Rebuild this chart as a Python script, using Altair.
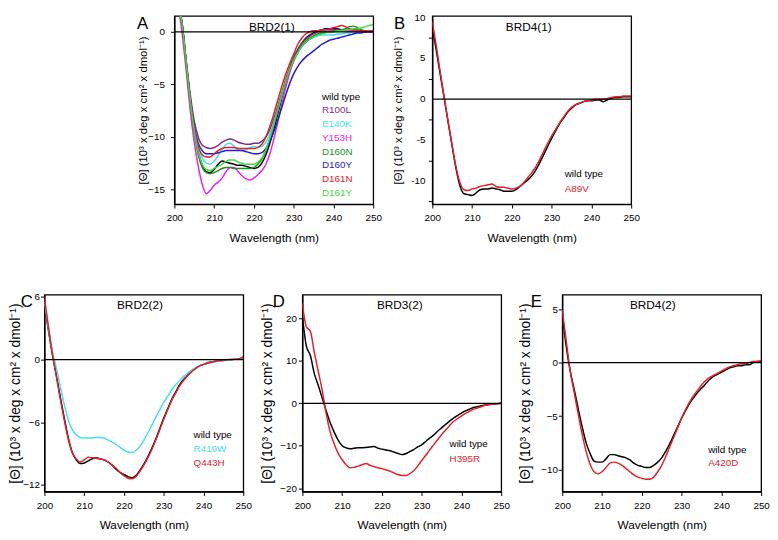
import altair as alt
import pandas as pd

FONT = "Liberation Sans, Arial, sans-serif"
WL = list(range(200, 251))
X_TICKS = list(range(200, 251, 5))
Y_TITLE = "[Θ] (10³ x deg x cm² x dmol⁻¹)"

# ---------------- Panel A : BRD2(1) ----------------
A_SERIES = ["wild type", "R100L", "E140K", "Y153H", "D160N", "D160Y", "D161N", "D161Y"]
A_COLORS = ["#000000", "#7B2D8E", "#3CE3F0", "#F21BF2", "#1F8F1F", "#1C1CD6", "#E4212B", "#3DDC3D"]
A_WT = [5.5, 3.0, 0.6, -3.0, -6.5, -9.3, -11.4, -12.7, -13.3, -13.4,
        -13.1, -12.6, -12.3, -12.4, -12.5, -12.6, -12.7, -12.7, -12.8, -12.9,
        -13.0, -12.9, -12.5, -11.7, -10.6, -9.3, -7.8, -6.3, -4.9, -3.6,
        -2.5, -1.7, -1.1, -0.6, -0.3, -0.1, 0.1, 0.2, 0.3, 0.3,
        0.3, 0.3, 0.2, 0.2, 0.1, 0.1, 0.1, 0.1, 0.1, 0.1, 0.1]
A_R100L = [5.5, 3.0, 0.6, -2.8, -6.0, -8.5, -10.0, -10.8, -11.0, -11.1,
           -11.0, -10.8, -10.5, -10.3, -10.2, -10.3, -10.5, -10.6, -10.7, -10.7,
           -10.6, -10.6, -10.4, -10.0, -9.3, -8.3, -7.1, -5.8, -4.5, -3.4,
           -2.4, -1.7, -1.1, -0.7, -0.4, -0.2, 0.0, 0.1, 0.2, 0.2,
           0.2, 0.2, 0.2, 0.2, 0.2, 0.2, 0.2, 0.1, 0.1, 0.1, 0.1]
A_E140K = [5.5, 3.0, 0.5, -3.0, -6.4, -9.2, -11.0, -12.0, -12.5, -12.6,
           -12.3, -11.8, -11.2, -10.7, -10.6, -10.9, -11.2, -11.3, -11.2, -11.0,
           -10.9, -11.0, -10.9, -10.5, -9.7, -8.6, -7.4, -6.1, -4.8, -3.7,
           -2.8, -2.0, -1.4, -1.0, -0.7, -0.5, -0.4, -0.3, -0.3, -0.3,
           -0.3, -0.2, -0.2, -0.1, -0.1, 0.0, 0.0, 0.0, 0.1, 0.1, 0.1]
A_Y153H = [5.0, 2.5, -0.3, -3.8, -7.5, -10.5, -12.8, -14.5, -15.4, -15.1,
           -14.6, -14.3, -13.9, -13.3, -12.9, -12.9, -13.3, -13.7, -14.0, -14.1,
           -13.9, -13.6, -13.2, -12.6, -11.6, -10.2, -8.6, -6.9, -5.3, -3.9,
           -2.8, -2.0, -1.4, -1.0, -0.7, -0.4, -0.2, -0.1, 0.0, 0.1,
           0.1, 0.1, 0.1, 0.1, 0.1, 0.1, 0.1, 0.1, 0.1, 0.1, 0.1]
A_D160N = [5.5, 3.0, 0.5, -3.2, -6.8, -9.6, -11.7, -12.9, -13.4, -13.5,
           -13.4, -13.2, -13.0, -12.9, -12.9, -13.0, -13.0, -13.0, -13.0, -13.0,
           -12.9, -12.6, -12.1, -11.3, -10.2, -8.9, -7.5, -6.1, -4.8, -3.6,
           -2.6, -1.9, -1.3, -0.9, -0.6, -0.4, -0.2, -0.1, 0.0, 0.0,
           0.1, 0.1, 0.2, 0.3, 0.5, 0.55, 0.4, 0.2, 0.1, 0.1, 0.1]
A_D160Y = [5.5, 3.0, 0.6, -3.0, -6.3, -9.0, -10.6, -11.3, -11.6, -11.6,
           -11.6, -11.5, -11.4, -11.3, -11.3, -11.3, -11.3, -11.3, -11.4, -11.5,
           -11.6, -11.6, -11.5, -11.1, -10.4, -9.5, -8.4, -7.2, -6.0, -4.9,
           -4.0, -3.3, -2.8, -2.4, -2.1, -1.8, -1.5, -1.2, -1.0, -0.8,
           -0.7, -0.6, -0.5, -0.4, -0.3, -0.2, -0.1, -0.1, 0.0, 0.0, 0.0]
A_D161N = [5.5, 3.0, 0.6, -3.0, -6.4, -9.2, -10.9, -11.7, -11.9, -11.9,
           -11.6, -11.3, -11.1, -11.0, -11.0, -11.0, -11.1, -11.1, -11.1, -11.1,
           -11.1, -11.0, -10.7, -10.0, -9.0, -7.8, -6.5, -5.2, -4.0, -3.0,
           -2.1, -1.2, -0.6, -0.2, 0.0, 0.1, 0.1, 0.2, 0.2, 0.3,
           0.4, 0.5, 0.6, 0.5, 0.3, 0.2, 0.1, 0.1, 0.1, 0.1, 0.0]
A_D161Y = [5.5, 3.0, 0.5, -3.1, -6.6, -9.4, -11.4, -12.6, -13.1, -13.2,
           -13.0, -12.8, -12.6, -12.3, -12.2, -12.2, -12.4, -12.5, -12.6, -12.6,
           -12.6, -12.4, -12.0, -11.2, -10.1, -8.8, -7.4, -6.0, -4.7, -3.6,
           -2.7, -2.0, -1.4, -1.0, -0.7, -0.5, -0.3, -0.2, -0.1, 0.0,
           0.0, 0.1, 0.1, 0.2, 0.2, 0.3, 0.3, 0.4, 0.5, 0.6, 0.7]

# ---------------- Panel B : BRD4(1) ----------------
B_SERIES = ["wild type", "A89V"]
B_COLORS = ["#000000", "#E4212B"]
B_WT = [8.8, 6.0, 3.0, 0.1, -2.9, -5.8, -8.6, -10.7, -11.6, -11.7,
        -11.8, -11.5, -11.1, -11.0, -11.0, -10.9, -11.0, -11.1, -11.3, -11.3,
        -11.3, -11.1, -10.7, -10.3, -9.9, -9.4, -8.7, -7.8, -6.8, -5.8,
        -4.8, -3.9, -3.0, -2.3, -1.6, -1.1, -0.7, -0.5, -0.3, -0.2,
        -0.2, -0.1, -0.1, -0.3, -0.1, 0.1, 0.2, 0.2, 0.3, 0.3, 0.3]
B_A89V = [9.5, 6.5, 3.3, 0.2, -2.8, -5.7, -8.4, -10.3, -11.1, -11.2,
          -11.0, -10.9, -10.7, -10.6, -10.5, -10.4, -10.7, -10.8, -10.8, -10.9,
          -11.0, -10.9, -10.7, -10.2, -9.6, -9.0, -8.3, -7.4, -6.4, -5.4,
          -4.5, -3.7, -2.9, -2.2, -1.5, -1.0, -0.7, -0.5, -0.3, -0.2,
          -0.1, 0.0, 0.0, 0.0, 0.1, 0.2, 0.3, 0.3, 0.4, 0.4, 0.4]

# ---------------- Panel C : BRD2(2) ----------------
C_SERIES = ["wild type", "R419W", "Q443H"]
C_COLORS = ["#000000", "#45E0EE", "#E4212B"]
C_WT = [5.2, 2.8, 0.5, -1.5, -3.6, -5.6, -7.5, -8.9, -9.6, -9.95,
        -9.9, -9.7, -9.5, -9.4, -9.5, -9.6, -9.8, -10.1, -10.5, -10.8,
        -11.0, -11.2, -11.3, -11.1, -10.6, -10.0, -9.3, -8.5, -7.6, -6.6,
        -5.6, -4.7, -3.8, -3.1, -2.4, -1.9, -1.5, -1.1, -0.8, -0.6,
        -0.45, -0.3, -0.2, -0.15, -0.1, -0.05, 0.0, 0.0, 0.05, 0.1, 0.1]
C_R419W = [5.5, 3.0, 0.8, -0.8, -2.6, -4.3, -5.8, -6.7, -7.2, -7.45,
           -7.5, -7.5, -7.5, -7.45, -7.45, -7.5, -7.7, -7.9, -8.1, -8.4,
           -8.65, -8.85, -8.9, -8.7, -8.3, -7.7, -7.0, -6.3, -5.5, -4.8,
           -4.1, -3.5, -2.9, -2.4, -2.0, -1.6, -1.3, -1.0, -0.8, -0.6,
           -0.45, -0.35, -0.25, -0.2, -0.15, -0.1, -0.05, 0.0, 0.05, 0.1, 0.2]
C_Q443H = [6.0, 3.2, 0.6, -1.6, -3.8, -5.8, -7.6, -8.9, -9.5, -9.8,
           -9.6, -9.35, -9.4, -9.45, -9.5, -9.6, -9.8, -10.1, -10.4, -10.8,
           -11.1, -11.35, -11.4, -11.2, -10.7, -10.1, -9.4, -8.6, -7.7, -6.7,
           -5.7, -4.8, -3.9, -3.2, -2.5, -2.0, -1.55, -1.15, -0.85, -0.6,
           -0.45, -0.35, -0.25, -0.15, -0.1, -0.05, 0.0, 0.05, 0.05, 0.1, 0.3]

# ---------------- Panel D : BRD3(2) ----------------
D_SERIES = ["wild type", "H395R"]
D_COLORS = ["#000000", "#E4212B"]
D_WT = [20.5, 13.5, 11.3, 7.0, 4.2, 1.2, -1.8, -4.6, -6.8, -8.7,
        -10.0, -10.5, -10.7, -10.6, -10.5, -10.5, -10.4, -10.3, -10.2, -10.6,
        -10.8, -11.0, -11.2, -11.5, -11.8, -12.1, -11.9, -11.4, -10.9, -10.3,
        -9.8, -9.0, -8.2, -7.5, -6.6, -5.8, -5.0, -4.2, -3.5, -2.9,
        -2.3, -1.8, -1.4, -1.0, -0.8, -0.6, -0.4, -0.3, -0.2, -0.1, 0.0]
D_H395R = [23.5, 18.0, 17.0, 12.0, 7.5, 3.0, -2.5, -6.8, -9.6, -11.8,
           -13.3, -14.5, -15.2, -15.1, -14.8, -14.5, -14.2, -14.6, -14.9, -15.2,
           -15.4, -15.7, -16.0, -16.4, -16.8, -17.0, -17.0, -16.6, -15.9, -14.8,
           -13.5, -12.3, -11.0, -9.8, -8.6, -7.4, -6.3, -5.3, -4.3, -3.6,
           -3.0, -2.4, -1.9, -1.4, -1.1, -0.8, -0.5, -0.3, -0.2, -0.1, 0.0]

# ---------------- Panel E : BRD4(2) ----------------
E_SERIES = ["wild type", "A420D"]
E_COLORS = ["#000000", "#E4212B"]
E_WT = [4.5, 1.5, -0.8, -2.5, -4.3, -6.0, -7.5, -8.5, -9.2, -9.3,
        -9.3, -9.0, -8.6, -8.6, -8.7, -8.8, -8.9, -9.1, -9.4, -9.6,
        -9.7, -9.8, -9.8, -9.6, -9.3, -8.9, -8.3, -7.6, -6.8, -6.0,
        -5.2, -4.5, -3.8, -3.3, -2.8, -2.4, -2.0, -1.6, -1.3, -1.1,
        -0.9, -0.7, -0.5, -0.4, -0.3, -0.3, -0.2, -0.2, 0.0, 0.1, 0.1]
E_A420D = [4.9, 2.0, -0.8, -2.8, -4.8, -6.7, -8.3, -9.5, -10.2, -10.4,
           -10.2, -9.8, -9.4, -9.3, -9.4, -9.6, -9.9, -10.2, -10.5, -10.7,
           -10.8, -10.9, -10.9, -10.7, -10.2, -9.6, -8.8, -7.9, -7.0, -6.1,
           -5.2, -4.4, -3.7, -3.1, -2.6, -2.1, -1.7, -1.4, -1.2, -1.0,
           -0.8, -0.6, -0.4, -0.3, -0.2, -0.1, -0.1, 0.0, 0.1, 0.1, 0.2]

A_YTICKS = [-15, -12.5, -10, -7.5, -5, -2.5, 0]
B_YTICKS = [-12.5, -10, -7.5, -5, -2.5, 0, 2.5, 5, 7.5, 10]
C_YTICKS = [-12, -10.5, -9, -7.5, -6, -4.5, -3, -1.5, 0, 1.5, 3, 4.5, 6]
D_YTICKS = [-20, -15, -10, -5, 0, 5, 10, 15, 20, 25]
E_YTICKS = [-10, -7.5, -5, -2.5, 0, 2.5, 5]


def panel(key, series, colors, values, ydomain, yticks, ylabel_step, width, height,
          title, title_x, letter, letter_x, legend_x, legend_y0, legend_step,
          ytitle_size, y_extent, y_labelpad, text_labels=False):
    rows = []
    for name, col, vals in zip(series, colors, values):
        for w, v in zip(WL, vals):
            rows.append({"wl": w, "val": v, "series": key + name, "col": col})
    df = pd.DataFrame(rows)

    xenc = alt.X("wl:Q", scale=alt.Scale(domain=[200, 250], nice=False, zero=False),
                 axis=alt.Axis(values=X_TICKS,
                               labelExpr="datum.value % 10 == 0 ? datum.label : ''",
                               title="Wavelength (nm)", labelPadding=5, titlePadding=10,
                               labelOverlap=False))
    yaxis_kw = dict(values=yticks, title=Y_TITLE, titleFontSize=ytitle_size,
                    minExtent=y_extent, maxExtent=y_extent,
                    labelPadding=y_labelpad, titlePadding=0, labelOverlap=False)
    if text_labels:
        yaxis_kw["labels"] = False
    else:
        yaxis_kw["labelExpr"] = (f"abs(datum.value % {ylabel_step}) < 0.001 ? "
                                 "format(datum.value, 'd') : ''")
    yenc = alt.Y("val:Q", scale=alt.Scale(domain=ydomain, nice=False, zero=False),
                 axis=alt.Axis(**yaxis_kw))

    lines = alt.Chart(df).mark_line(clip=True, strokeWidth=1.5, interpolate="monotone").encode(
        x=xenc, y=yenc,
        color=alt.Color("col:N", scale=None),
        detail="series:N",
    )
    zero = alt.Chart(pd.DataFrame({"val": [0]})).mark_rule(color="black", strokeWidth=1.3).encode(
        y="val:Q")

    ttl = alt.Chart(pd.DataFrame({"t": [title]})).mark_text(
        font=FONT, fontSize=12, align="center", baseline="alphabetic", color="black").encode(
        text="t:N", x=alt.value(title_x), y=alt.value(15))
    let = alt.Chart(pd.DataFrame({"t": [letter]})).mark_text(
        font=FONT, fontSize=17, align="left", baseline="top", color="black").encode(
        text="t:N", x=alt.value(letter_x), y=alt.value(0))

    leg = pd.DataFrame({
        "label": series,
        "col": colors,
        "wl": [legend_x] * len(series),
        "val": [legend_y0 - i * legend_step for i in range(len(series))],
    })
    legend = alt.Chart(leg).mark_text(
        font=FONT, fontSize=10, align="left", baseline="alphabetic").encode(
        x="wl:Q", y="val:Q", text="label:N",
        color=alt.Color("col:N", scale=None))

    layers = [lines, zero, ttl, let, legend]
    if text_labels:
        major = [v for v in yticks if abs(v % ylabel_step) < 1e-6]
        lab = pd.DataFrame({"val": major, "t": [str(int(v)) for v in major]})
        layers.append(alt.Chart(lab).mark_text(
            font=FONT, fontSize=10, align="right", baseline="middle", color="black").encode(
            x=alt.value(-(4 + y_labelpad)), y="val:Q", text="t:N"))

    return alt.layer(*layers).properties(width=width, height=height)


pA = panel("A", A_SERIES, A_COLORS, [A_WT, A_R100L, A_E140K, A_Y153H, A_D160N, A_D160Y, A_D161N, A_D161Y],
           [-16.39, 1.51], A_YTICKS, 5, 202, 191,
           "BRD2(1)", 99, "A", -38, 237.1, -6.45, 1.31, 11.5, 26, 6)
pB = panel("B", B_SERIES, B_COLORS, [B_WT, B_A89V],
           [-12.86, 10.2], B_YTICKS, 5, 202, 191,
           "BRD4(1)", 98, "B", -39, 233.3, -9.6, 1.78, 11.5, 29, 3, text_labels=True)
pC = panel("C", C_SERIES, C_COLORS, [C_WT, C_R419W, C_Q443H],
           [-12.63, 6.23], C_YTICKS, 3, 202, 200,
           "BRD2(2)", 97, "C", -24, 237.5, -7.5, 1.35, 14, 22, 1)
pD = panel("D", D_SERIES, D_COLORS, [D_WT, D_H395R],
           [-20.8, 25.6], D_YTICKS, 10, 202, 200,
           "BRD3(2)", 99, "D", -30, 237, -10.4, 3.34, 14, 28, 2)
pE = panel("E", E_SERIES, E_COLORS, [E_WT, E_A420D],
           [-12.05, 6.35], E_YTICKS, 5, 202, 200,
           "BRD4(2)", 92, "E", -32, 236.7, -8.46, 1.22, 14, 30, 1)

row1 = alt.hconcat(pA, pB, spacing=10).resolve_scale(x="independent", y="independent")
row2 = alt.hconcat(pC, pD, pE, spacing=8).resolve_scale(x="independent", y="independent")

chart = alt.vconcat(row1, row2, spacing=47, center=True).resolve_scale(
    x="independent", y="independent").properties(padding=0).configure_view(
    stroke="black", strokeWidth=1.3
).configure_axis(
    labelFont=FONT, titleFont=FONT, labelFontSize=10, titleFontSize=12,
    titleFontWeight="normal", labelColor="black", titleColor="black",
    tickColor="black", domainColor="black", tickSize=4, tickWidth=1,
    domainWidth=1.3, grid=False, labelFlush=False
)

chart.save("out.html", embed_options={"renderer": "svg", "actions": False})
